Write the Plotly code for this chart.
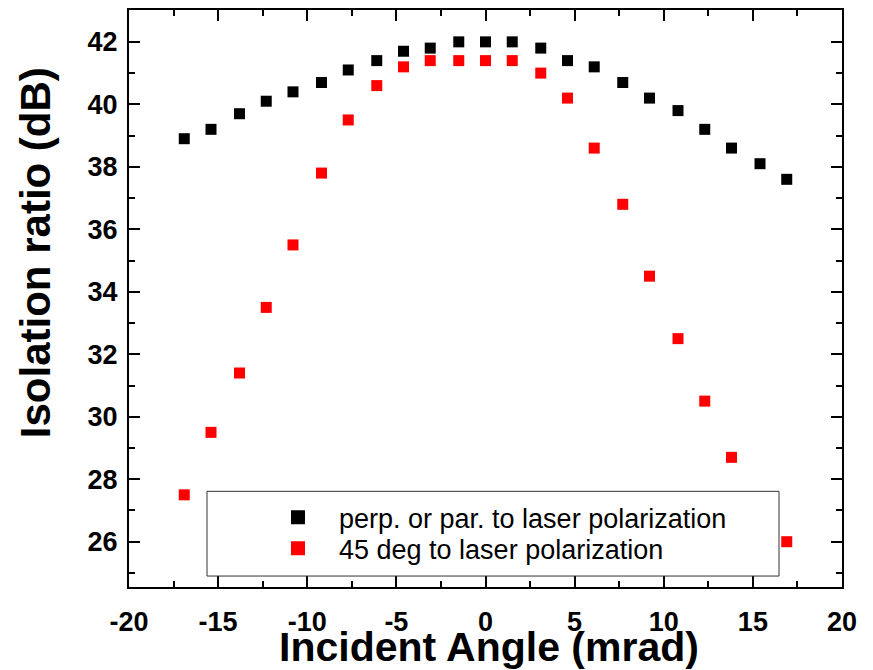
import plotly.graph_objects as go

angle_mrad = [-16.9, -15.4, -13.8, -12.3, -10.8, -9.2, -7.7, -6.1, -4.6, -3.1, -1.5, 0.0,
              1.5, 3.1, 4.6, 6.1, 7.7, 9.2, 10.8, 12.3, 13.8, 15.4, 16.9]
iso_perp_par = [38.9, 39.2, 39.7, 40.1, 40.4, 40.7, 41.1, 41.4, 41.7, 41.8, 42.0, 42.0,
                42.0, 41.8, 41.4, 41.2, 40.7, 40.2, 39.8, 39.2, 38.6, 38.1, 37.6]
iso_45deg = [27.5, 29.5, 31.4, 33.5, 35.5, 37.8, 39.5, 40.6, 41.2, 41.4, 41.4, 41.4,
             41.4, 41.0, 40.2, 38.6, 36.8, 34.5, 32.5, 30.5, 28.7, 27.3, 26.0]
series_names = ["perp. or par. to laser polarization", "45 deg to laser polarization"]
series_colors = ["#000000", "#ff0000"]
x_ticks = [-20, -15, -10, -5, 0, 5, 10, 15, 20]
y_ticks = [26, 28, 30, 32, 34, 36, 38, 40, 42]

# page body has an 8px default margin; figure is sized to fit the window
OFF = 8
W, H = 873 - OFF, 670 - OFF
L, T = 129 - OFF, 8 - OFF
PW, PH = 713, 579
R, B = W - L - PW, H - T - PH

def px(sx):  # screen x -> paper
    return (sx - OFF - L) / PW

def py(sy):  # screen y -> paper
    return (OFF + T + PH - sy) / PH

FONT = "Arial, Liberation Sans, sans-serif"

fig = go.Figure()
for name, vals, col in zip(series_names, [iso_perp_par, iso_45deg], series_colors):
    fig.add_trace(go.Scatter(x=angle_mrad, y=vals, mode="markers", name=name, showlegend=False,
                             marker=dict(symbol="square", size=11, color=col)))
# legend entries (larger symbols as in the reference)
for i, (name, col) in enumerate(zip(series_names, series_colors)):
    fig.add_trace(go.Scatter(x=[None], y=[None], mode="markers", name=name, showlegend=True,
                             legend="legend" if i == 0 else "legend2",
                             marker=dict(symbol="square", size=14, color=col)))

axis_common = dict(
    showline=True, linecolor="black", linewidth=2, mirror="allticks",
    ticks="inside", ticklen=11, tickwidth=2, tickcolor="black",
    showgrid=False, zeroline=False,
    tickfont=dict(family=FONT, size=27, color="black", weight="bold"),
)

fig.update_xaxes(range=[-20, 20], tickvals=x_ticks, ticktext=[str(v) for v in x_ticks],
                 minor=dict(dtick=2.5, tick0=0, ticks="inside", ticklen=6, tickwidth=2, tickcolor="black"),
                 ticklabelstandoff=10, **axis_common)
fig.update_yaxes(range=[24.55, 43.02], tickvals=y_ticks, ticktext=[str(v) for v in y_ticks],
                 minor=dict(dtick=1, tick0=0, ticks="inside", ticklen=6, tickwidth=2, tickcolor="black"),
                 ticklabelstandoff=4, **axis_common)

fig.add_shape(type="rect", xref="paper", yref="paper",
              x0=px(207), x1=px(779), y0=py(576), y1=py(491),
              line=dict(color="#333333", width=1), fillcolor="white", layer="above")

fig.add_annotation(text="Incident Angle (mrad)", xref="paper", yref="paper",
                   x=px(489), y=py(647), xanchor="center", yanchor="middle", showarrow=False,
                   font=dict(family=FONT, size=41, color="black", weight="bold"))
fig.add_annotation(text="Isolation ratio (dB)", xref="paper", yref="paper", textangle=-90,
                   x=px(35), y=py(252), xanchor="center", yanchor="middle", showarrow=False,
                   font=dict(family=FONT, size=42, color="black", weight="bold"))

leg_common = dict(xanchor="left", yanchor="top", bgcolor="rgba(0,0,0,0)", borderwidth=0,
                  itemwidth=72, font=dict(family=FONT, size=27, color="black"))
fig.update_layout(
    width=W, height=H, margin=dict(l=L, r=R, t=T, b=B),
    paper_bgcolor="white", plot_bgcolor="white",
    showlegend=True,
    legend=dict(x=px(257), y=py(493), **leg_common),
    legend2=dict(x=px(257), y=py(524), **leg_common),
)

fig.write_html("out.html")
